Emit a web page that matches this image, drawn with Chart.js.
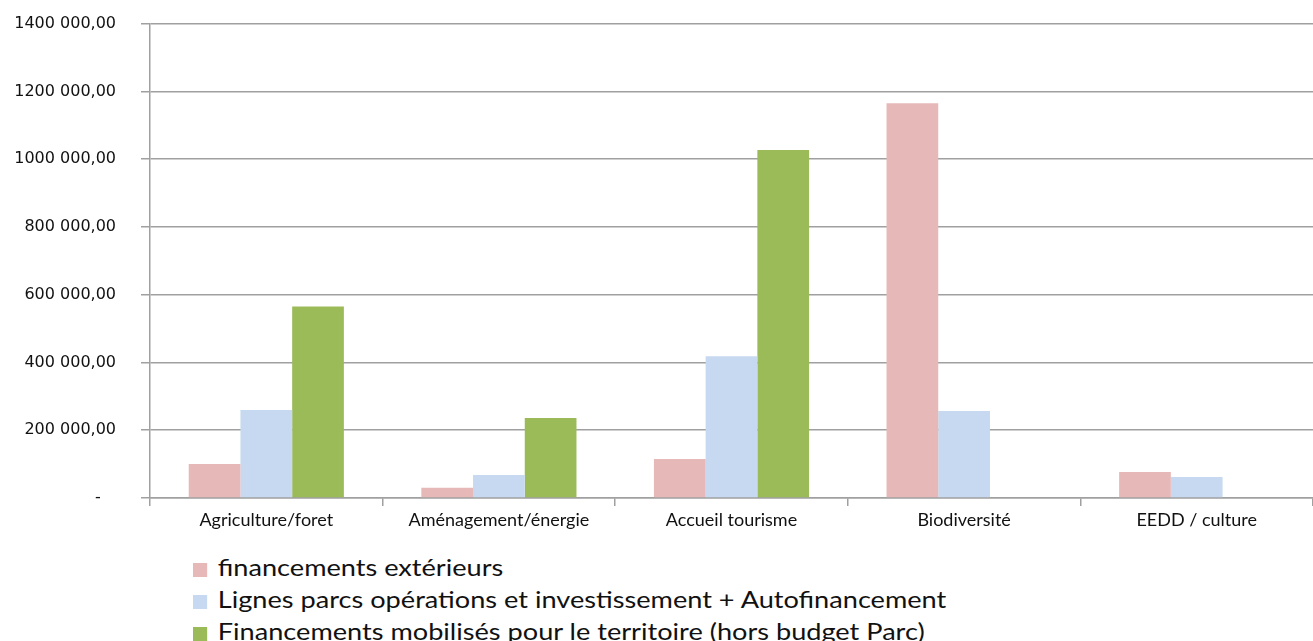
<!DOCTYPE html>
<html>
<head>
<meta charset="utf-8">
<script src="https://cdn.jsdelivr.net/npm/chart.js@4.4.1/dist/chart.umd.min.js"></script>
<style>
  html, body { margin: 0; padding: 0; background: #fff; }
  #wrap { position: relative; width: 1313px; height: 641px; overflow: hidden; }
  #chart-box { position: absolute; left: 0; top: -11px; width: 1313px; height: 552px; }
  #legend { position: absolute; left: 193px; top: 551px; font-family: Lato, sans-serif; font-size: 23px; color: #111;
            transform: scaleX(1.18); transform-origin: left top; }
  #legend div { height: 32px; line-height: 32px; white-space: nowrap; }
  #legend span.box { display: inline-block; width: 12px; height: 14px; margin-right: 9px; vertical-align: -1px; }
</style>
</head>
<body>
<div id="wrap">
  <div id="chart-box"><canvas id="bar-chart"></canvas></div>
  <div id="legend"></div>
</div>
<script>
// categories and series
let categories = ["Agriculture/foret", "Aménagement/énergie", "Accueil tourisme", "Biodiversité", "EEDD / culture"]
let seriesNames = [
  "financements extérieurs",
  "Lignes parcs opérations et investissement + Autofinancement",
  "Financements mobilisés pour le territoire (hors budget Parc)"
]
let financementsExt = [100000, 30000, 115000, 1165000, 77000]
let lignesParcs = [260000, 68000, 418000, 257000, 62000]
let financementsMob = [565000, 236000, 1027000, 0, 0]
let yTicks = [0, 200000, 400000, 600000, 800000, 1000000, 1200000, 1400000]

let colors = ['#e6b9b8', '#c6d9f1', '#9bbb59']

function fmt(v) {
  if (v === 0) return '-   ';
  let k = Math.floor(v / 1000), r = v % 1000;
  return k + ' ' + String(r).padStart(3, '0') + ',00';
}

let values = [financementsExt, lignesParcs, financementsMob]
let datasets = values.map(function(d, i) {
  return {
    label: seriesNames[i],
    data: d,
    backgroundColor: colors[i],
    borderWidth: 0,
    categoryPercentage: 0.667,
    barPercentage: 1.0
  }
})

let chart = new Chart(document.getElementById('bar-chart'), {
  type: 'bar',
  data: { labels: categories, datasets: datasets },
  options: {
    responsive: true,
    maintainAspectRatio: false,
    animation: false,
    layout: { padding: { top: 11, right: 0, bottom: 0, left: 0 } },
    plugins: {
      legend: { display: false },
      tooltip: { enabled: false }
    },
    scales: {
      x: {
        offset: true,
        grid: { offset: true, drawOnChartArea: false, drawTicks: true, tickLength: 8, color: '#a0a0a0', lineWidth: 1.5 },
        border: { color: '#a0a0a0', width: 1.5 },
        ticks: { color: '#111', font: { family: 'Lato', size: 18 }, padding: 3, maxRotation: 0 },
        afterFit: function(s) { s.height = 43 }
      },
      y: {
        min: 0,
        max: 1400000,
        afterBuildTicks: function(s) { s.ticks = yTicks.map(function(v) { return { value: v } }) },
        grid: { color: '#a0a0a0', lineWidth: 1.5, tickLength: 9 },
        border: { color: '#a0a0a0', width: 1.5 },
        ticks: {
          color: '#111',
          font: { family: 'DejaVu Sans', size: 16 },
          padding: 25,
          callback: function(v) { return fmt(v) }
        },
        afterFit: function(s) { s.width = 150 }
      }
    }
  }
})

// legend stacked under the plot, built from the chart's datasets
let leg = document.getElementById('legend')
chart.data.datasets.forEach(function(ds) {
  let row = document.createElement('div')
  row.innerHTML = '<span class="box" style="background:' + ds.backgroundColor + '"></span>' + ds.label
  leg.appendChild(row)
})
</script>
</body>
</html>
